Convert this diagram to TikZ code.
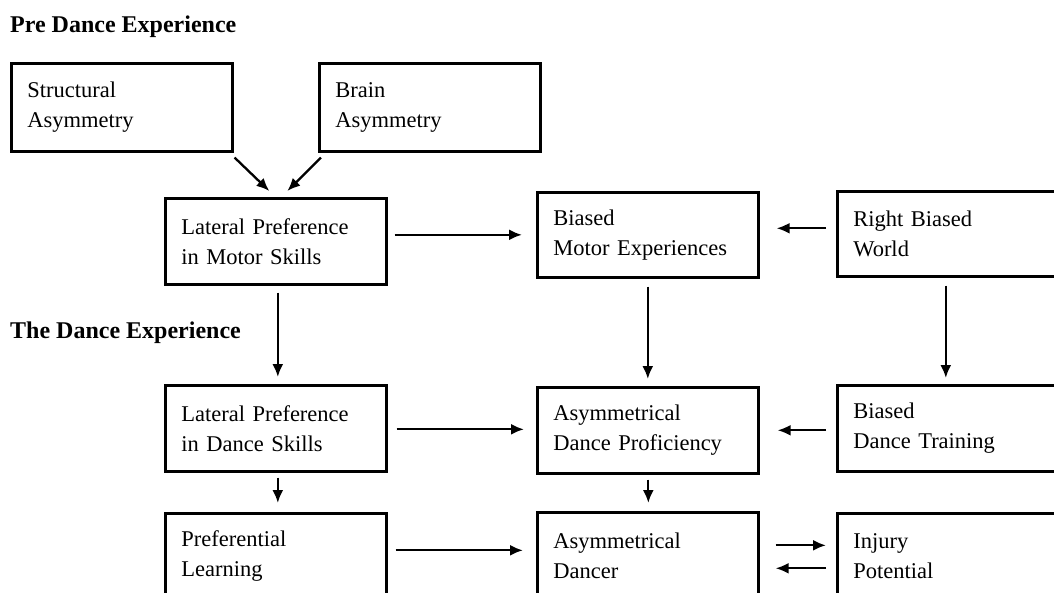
\documentclass[tikz,border=0pt]{standalone}
\usepackage{fontspec}
\setmainfont{Liberation Serif}
\usetikzlibrary{calc,arrows.meta}
\begin{document}
\begin{tikzpicture}[x=1pt,y=-1pt,
  box/.style={draw, line width=2.6pt, anchor=north west, minimum width=221pt,
    minimum height=86pt, inner xsep=16pt, inner ysep=0pt, text width=189pt,
    align=left, font=\fontsize{22.5}{30}\selectfont},
  arr/.style={line width=2.3pt, -{Latex[length=13pt,width=11pt]}},
  ttl/.style={anchor=base west, inner sep=0pt, font=\fontsize{24}{28}\selectfont\bfseries}]
\useasboundingbox (0,0) rectangle (1054,592);
\clip (0,0) rectangle (1054,592);
\fill[white] (0,0) rectangle (1054,592);

\node[ttl] (t1) at (10,32) {Pre Dance Experience};
\node[ttl] (t2) at (10,338) {The Dance Experience};

\node[box, minimum height=88pt] (sa) at (10,62) {Structural\\Asymmetry};
\node[box, minimum height=88pt] (ba) at (318,62) {Brain\\Asymmetry};
\node[box] (lpm) at (164,197) {Lateral Preference\\in Motor Skills};
\node[box, minimum height=85pt] (bme) at (536,191) {Biased\\Motor Experiences};
\node[box, minimum height=85pt] (rbw) at (836,190) {Right Biased\\World};
\node[box] (lpd) at (164,384) {Lateral Preference\\in Dance Skills};
\node[box] (adp) at (536,386) {Asymmetrical\\Dance Proficiency};
\node[box] (bdt) at (836,384) {Biased\\Dance Training};
\node[box] (pl) at (164,512) {Preferential\\Learning};
\node[box] (ad) at (536,511) {Asymmetrical\\Dancer};
\node[box] (ip) at (836,512) {Injury\\Potential};

% top converging arrows
\draw[arr] ($(sa.south east)+(1,5)$) -- ($(lpm.north)+(-6.5,-6)$);
\draw[arr] ($(ba.south west)+(3,5)$) -- ($(lpm.north)+(11.5,-6)$);

% row 1 horizontals
\draw[arr] ($(lpm.east |- bme.west)+(7,0)$) -- ($(bme.west)+(-14,0)$);
\draw[arr] ($(rbw.west)+(-10,-5.5)$) -- ($(bme.east |- rbw.west)+(17,-5.5)$);

% verticals row1 -> row2
\draw[arr] ($(lpm.south)+(2,7)$) -- ($(lpm.south |- lpd.north)+(2,-7)$);
\draw[arr] ($(bme.south)+(0,8)$) -- ($(bme.south |- adp.north)+(0,-7)$);
\draw[arr] ($(rbw.south)+(-2,8)$) -- ($(rbw.south |- bdt.north)+(-2,-6)$);

% row 2 horizontals
\draw[arr] ($(lpd.east)+(9,1)$) -- ($(adp.west |- lpd.east)+(-12,1)$);
\draw[arr] ($(bdt.west)+(-10,2)$) -- ($(adp.east |- bdt.west)+(18,2)$);

% verticals row2 -> row3
\draw[arr] ($(lpd.south)+(2,5)$) -- ($(lpd.south |- pl.north)+(2,-9)$);
\draw[arr] ($(adp.south)+(0.5,5)$) -- ($(adp.south |- ad.north)+(0.5,-8)$);

% row 3 horizontals
\draw[arr] ($(pl.east)+(8,-6)$) -- ($(ad.west |- pl.east)+(-13,-6)$);
\draw[arr] ($(ad.east)+(16,-10)$) -- ($(ip.west |- ad.east)+(-10,-10)$);
\draw[arr] ($(ip.west |- ad.east)+(-10,13)$) -- ($(ad.east)+(16,13)$);
\end{tikzpicture}
\end{document}
